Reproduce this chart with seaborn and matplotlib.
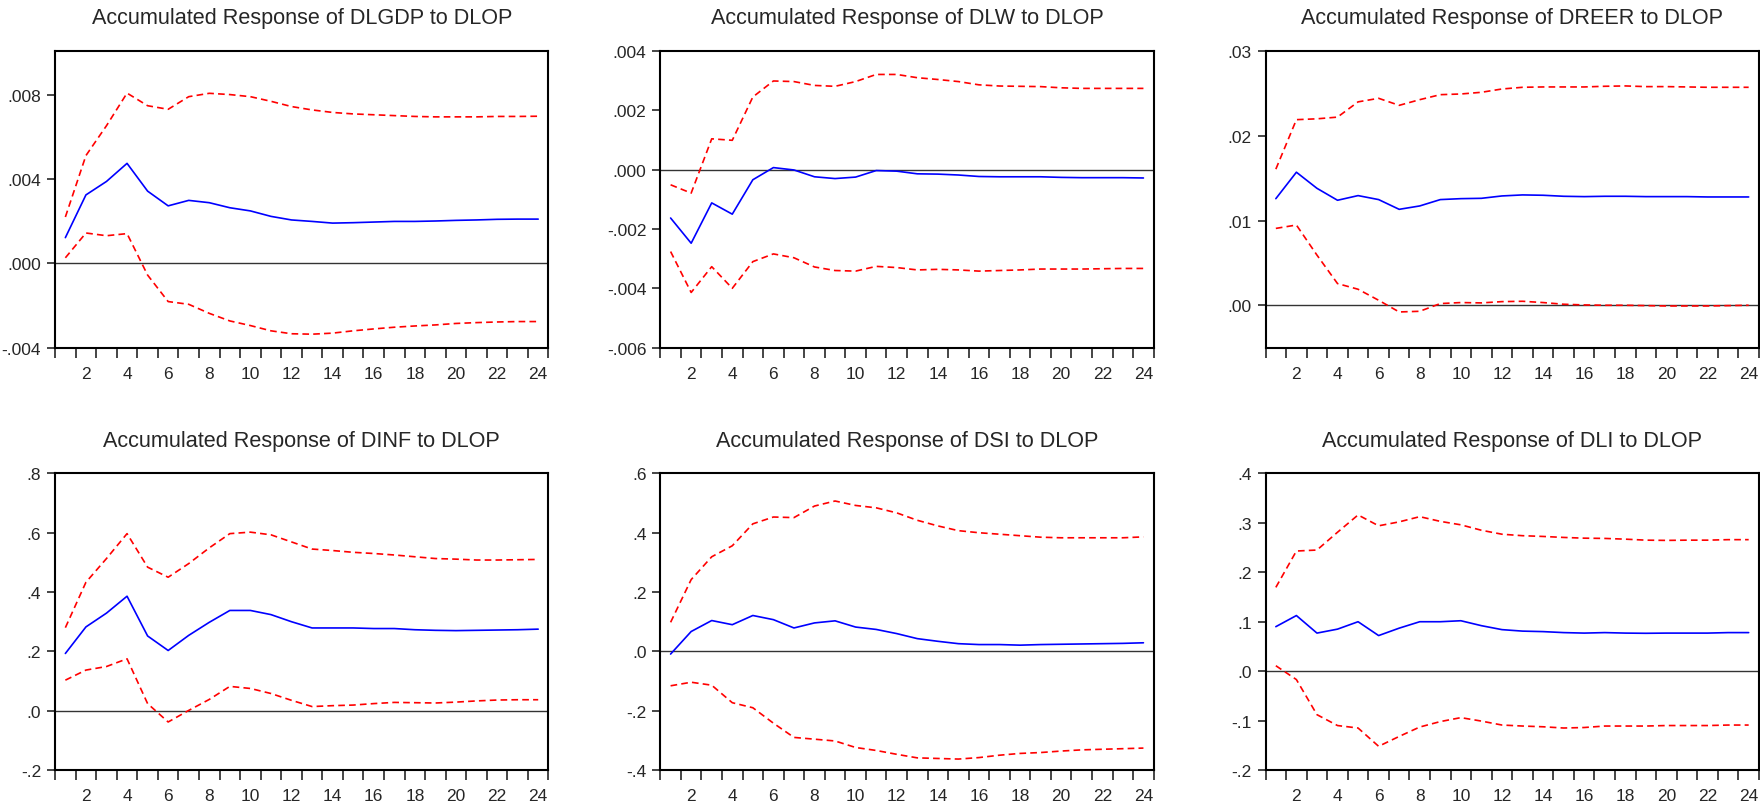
import numpy as np
import pandas as pd
import seaborn as sns
import matplotlib
matplotlib.use("Agg")
import matplotlib.pyplot as plt
from matplotlib.ticker import FuncFormatter, FixedLocator

periods = list(range(1, 25))
shock = "DLOP"
responses = ["DLGDP", "DLW", "DREER", "DINF", "DSI", "DLI"]

dlgdp_resp = [0.00123, 0.00326, 0.0039, 0.00476, 0.00344, 0.00274, 0.0030, 0.00289, 0.00265, 0.0025, 0.00224, 0.00207,
              0.0020, 0.00192, 0.00194, 0.00197, 0.0020, 0.0020, 0.00202, 0.00205, 0.00207, 0.0021, 0.00211, 0.00211]
dlgdp_upper = [0.00221, 0.00513, 0.00655, 0.0081, 0.0075, 0.00733, 0.00793, 0.00809, 0.00803, 0.00793, 0.00771, 0.00746,
               0.0073, 0.00718, 0.00711, 0.00707, 0.00703, 0.00699, 0.00697, 0.00697, 0.00697, 0.00699, 0.00699, 0.007]
dlgdp_lower = [0.00027, 0.00145, 0.00132, 0.00142, -0.00055, -0.00181, -0.00194, -0.00237, -0.00273, -0.00295, -0.0032, -0.00334,
               -0.00336, -0.00331, -0.0032, -0.00311, -0.00303, -0.00297, -0.00292, -0.00285, -0.00281, -0.00278, -0.00276, -0.00276]

dlw_resp = [-0.00163, -0.00248, -0.00112, -0.0015, -0.00034, 0.00007, -0.00001, -0.00024, -0.0003, -0.00025, -0.00003, -0.00005,
            -0.00014, -0.00015, -0.00018, -0.00023, -0.00024, -0.00024, -0.00024, -0.00026, -0.00027, -0.00027, -0.00027, -0.00028]
dlw_upper = [-0.00051, -0.00079, 0.00104, 0.00099, 0.00245, 0.00299, 0.00297, 0.00284, 0.00281, 0.00297, 0.00321, 0.00321,
             0.0031, 0.00304, 0.00297, 0.00286, 0.00282, 0.00281, 0.0028, 0.00276, 0.00274, 0.00274, 0.00274, 0.00274]
dlw_lower = [-0.00276, -0.00414, -0.00327, -0.004, -0.0031, -0.00284, -0.00297, -0.00328, -0.0034, -0.00342, -0.00326, -0.0033,
             -0.00338, -0.00336, -0.00338, -0.00342, -0.0034, -0.00338, -0.00335, -0.00335, -0.00335, -0.00334, -0.00333, -0.00333]

dreer_resp = [0.01258, 0.0157, 0.0138, 0.01239, 0.01294, 0.01247, 0.01132, 0.01172, 0.01247, 0.01258, 0.01262, 0.0129,
              0.01302, 0.01298, 0.01286, 0.01282, 0.01286, 0.01286, 0.01282, 0.01282, 0.01282, 0.01278, 0.01278, 0.01278]
dreer_upper = [0.01606, 0.0219, 0.022, 0.0222, 0.024, 0.02442, 0.02359, 0.02426, 0.02485, 0.02493, 0.02513, 0.02552,
               0.02572, 0.02576, 0.02576, 0.02576, 0.02584, 0.02588, 0.0258, 0.0258, 0.02576, 0.02572, 0.02572, 0.02572]
dreer_lower = [0.00907, 0.00947, 0.00592, 0.00256, 0.00189, 0.00059, -0.00079, -0.00071, 0.0002, 0.00032, 0.00028, 0.00043,
               0.00047, 0.00032, 0.00012, 0.00004, 0.0, 0.0, -0.00004, -0.00008, -0.00008, -0.00008, -0.00004, 0.0]

dinf_resp = [0.193, 0.2825, 0.329, 0.386, 0.252, 0.203, 0.254, 0.298, 0.338, 0.338, 0.324, 0.3,
             0.279, 0.279, 0.279, 0.277, 0.277, 0.273, 0.271, 0.27, 0.271, 0.272, 0.273, 0.275]
dinf_upper = [0.28, 0.433, 0.513, 0.597, 0.484, 0.45, 0.496, 0.549, 0.597, 0.602, 0.593, 0.569,
              0.545, 0.54, 0.534, 0.53, 0.525, 0.519, 0.513, 0.511, 0.508, 0.508, 0.509, 0.51]
dinf_lower = [0.103, 0.137, 0.149, 0.175, 0.024, -0.038, 0.001, 0.038, 0.082, 0.075, 0.058, 0.035,
              0.014, 0.017, 0.019, 0.024, 0.028, 0.027, 0.026, 0.029, 0.033, 0.036, 0.037, 0.037]

dsi_resp = [-0.009, 0.067, 0.104, 0.09, 0.121, 0.107, 0.079, 0.096, 0.103, 0.082, 0.074, 0.06,
            0.043, 0.034, 0.026, 0.023, 0.023, 0.021, 0.023, 0.024, 0.025, 0.026, 0.027, 0.029]
dsi_upper = [0.098, 0.242, 0.319, 0.356, 0.43, 0.453, 0.451, 0.49, 0.507, 0.492, 0.484, 0.467,
             0.442, 0.423, 0.407, 0.4, 0.395, 0.39, 0.385, 0.383, 0.383, 0.383, 0.383, 0.386]
dsi_lower = [-0.116, -0.104, -0.114, -0.173, -0.19, -0.242, -0.29, -0.296, -0.302, -0.324, -0.334, -0.347,
             -0.359, -0.361, -0.363, -0.358, -0.35, -0.344, -0.341, -0.336, -0.332, -0.33, -0.328, -0.326]

dli_resp = [0.09, 0.1125, 0.077, 0.085, 0.1, 0.072, 0.087, 0.1, 0.1, 0.102, 0.092, 0.084,
            0.081, 0.08, 0.078, 0.077, 0.078, 0.077, 0.0766, 0.077, 0.077, 0.077, 0.078, 0.078]
dli_upper = [0.1695, 0.243, 0.245, 0.281, 0.316, 0.294, 0.302, 0.3125, 0.303, 0.296, 0.285, 0.277,
             0.274, 0.2725, 0.2705, 0.269, 0.2685, 0.267, 0.265, 0.2645, 0.265, 0.265, 0.266, 0.266]
dli_lower = [0.011, -0.017, -0.088, -0.11, -0.115, -0.152, -0.132, -0.113, -0.102, -0.094, -0.101, -0.109,
             -0.111, -0.1125, -0.115, -0.114, -0.111, -0.111, -0.111, -0.11, -0.11, -0.11, -0.109, -0.109]

y_limits = [(-0.004, 0.0101), (-0.006, 0.004), (-0.005, 0.03), (-0.2, 0.8), (-0.4, 0.6), (-0.2, 0.4)]
y_ticks = [[-0.004, 0.0, 0.004, 0.008],
           [-0.006, -0.004, -0.002, 0.0, 0.002, 0.004],
           [0.0, 0.01, 0.02, 0.03],
           [-0.2, 0.0, 0.2, 0.4, 0.6, 0.8],
           [-0.4, -0.2, 0.0, 0.2, 0.4, 0.6],
           [-0.2, -0.1, 0.0, 0.1, 0.2, 0.3, 0.4]]
y_decimals = [3, 3, 2, 1, 1, 1]

series = [
    (dlgdp_resp, dlgdp_upper, dlgdp_lower),
    (dlw_resp, dlw_upper, dlw_lower),
    (dreer_resp, dreer_upper, dreer_lower),
    (dinf_resp, dinf_upper, dinf_lower),
    (dsi_resp, dsi_upper, dsi_lower),
    (dli_resp, dli_upper, dli_lower),
]


def eviews_fmt(decimals):
    # EViews drops the leading zero: .008, -.004
    def f(v, pos):
        s = f"{v:.{decimals}f}"
        if s.startswith("-0."):
            s = "-" + s[2:]
        elif s.startswith("0."):
            s = s[1:]
        if s.startswith("-") and float(s) == 0:
            s = s[1:]
        return s
    return FuncFormatter(f)


sns.set_style("white")
plt.rcParams["font.family"] = ["Liberation Sans", "DejaVu Sans"]

fig, axes = plt.subplots(2, 3, figsize=(17.6, 8.04), dpi=100)
fig.subplots_adjust(left=0.0313, right=0.9994, top=0.9353, bottom=0.041, wspace=0.2267, hspace=0.424)

for i, ax in enumerate(axes.flat):
    resp, upper, lower = series[i]
    df = pd.DataFrame({"period": periods, "resp": resp, "upper": upper, "lower": lower})
    ax.axhline(0, color="#333333", lw=1.0, zorder=1)
    sns.lineplot(data=df, x="period", y="upper", ax=ax, color="#ff0000", lw=1.2, linestyle=(0, (4, 2.5)))
    sns.lineplot(data=df, x="period", y="lower", ax=ax, color="#ff0000", lw=1.2, linestyle=(0, (4, 2.5)))
    sns.lineplot(data=df, x="period", y="resp", ax=ax, color="#0000ff", lw=1.2)

    ax.set_xlim(0.5, 24.5)
    ax.set_ylim(*y_limits[i])
    ax.set_xlabel("")
    ax.set_ylabel("")
    ax.set_title(f"Accumulated Response of {responses[i]} to {shock}", fontsize=15.6, pad=20)

    ax.xaxis.set_major_locator(FixedLocator(list(range(2, 25, 2))))
    ax.xaxis.set_minor_locator(FixedLocator([p - 0.5 for p in periods] + [24.5]))
    ax.tick_params(axis="x", which="major", length=0, pad=13, labelsize=12.5)
    ax.tick_params(axis="x", which="minor", length=7, width=1.2, direction="out", bottom=True)
    ax.set_yticks(y_ticks[i])
    ax.yaxis.set_major_formatter(eviews_fmt(y_decimals[i]))
    ax.tick_params(axis="y", which="major", length=6, width=1.2, direction="out", left=True, pad=4, labelsize=12.5)

    for sp in ax.spines.values():
        sp.set_color("black")
        sp.set_linewidth(1.5)

fig.savefig("out.png", dpi=100, facecolor="white")
